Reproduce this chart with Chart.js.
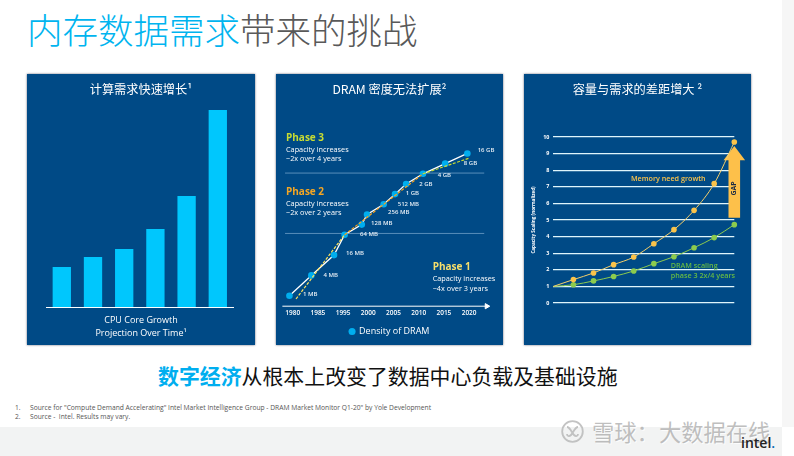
<!DOCTYPE html>
<html>
<head>
<meta charset="utf-8">
<style>
  html, body { margin: 0; padding: 0; background: #fff; }
  body { width: 794px; height: 456px; position: relative; overflow: hidden; font-family: "Noto Sans CJK SC", "Open Sans", sans-serif; }
  .band { position: absolute; left: 0; top: 427px; width: 782px; height: 29px; background: #f2f3f3; }
  .strip { position: absolute; left: 782px; top: 0; width: 12px; height: 427px; background: #f6f6f6; }
  .title { position: absolute; left: 27px; top: 4px; font-size: 35.5px; line-height: 50px; color: #595959; font-weight: 300; white-space: nowrap; }
  .title b { color: #00b4ef; font-weight: 300; }
  .msg b { color: #00aeef; font-weight: 700; }
  .panel { position: absolute; top: 74px; height: 271px; background: #004a86; box-shadow: 0 0 2px #667; overflow: hidden; }
  .panel canvas { position: absolute; left: 0; top: 0; }
  .ptitle { position: absolute; left: 0; right: 0; top: 5px; text-align: center; color: #fff; font-size: 12.2px; line-height: 20px; white-space: nowrap; }
  .caption { position: absolute; left: 0; right: 0; top: 240px; text-align: center; color: #fff; font-size: 9px; line-height: 12.5px; font-family: "Open Sans", sans-serif; }
  .note { position: absolute; color: #fff; font-size: 7.3px; line-height: 9.3px; font-family: "Open Sans", sans-serif; white-space: nowrap; }
  .note b { display: block; font-size: 10px; line-height: 16px; }
  .msg { position: absolute; left: 158px; top: 359px; font-size: 20.9px; line-height: 32px; color: #111; font-weight: 400; white-space: nowrap; }
  .foot { position: absolute; left: 15px; font-size: 6.7px; line-height: 9px; color: #555; font-family: "Open Sans", sans-serif; white-space: nowrap; }
  .foot span { display: inline-block; width: 15px; }
  .mark { position: absolute; left: 592px; top: 416px; font-size: 22.3px; line-height: 30px; color: rgba(170,170,170,.75); text-shadow: 1px 1px 0 rgba(255,255,255,.8); white-space: nowrap; }
  .ring { position: absolute; left: 561px; top: 420px; }
  .logo { position: absolute; left: 741px; top: 433px; font-size: 14px; line-height: 20px; font-weight: 600; color: #222; font-family: "Open Sans", sans-serif; }
  .logo i { color: #0068b5; font-style: normal; }
</style>
<script src="https://cdn.jsdelivr.net/npm/chart.js@4"></script>
</head>
<body>
<div class="band"></div>
<div class="strip"></div>
<div class="title"><b>内存数据需求</b>带来的挑战</div>

<div class="panel" style="left:27px;width:228px">
  <canvas id="barChart" width="228" height="272"></canvas>
  <div class="ptitle">计算需求快速增长¹</div>
  <div class="caption">CPU Core Growth<br>Projection Over Time¹</div>
</div>

<div class="panel" style="left:276px;width:227px">
  <canvas id="dramChart" width="227" height="272"></canvas>
  <div class="ptitle">DRAM 密度无法扩展²</div>
  <div class="note" style="left:10px;top:54.7px"><b style="color:#c8dc32">Phase 3</b>Capacity increases<br>~2x over 4 years</div>
  <div class="note" style="left:10px;top:109px"><b style="color:#f5a623">Phase 2</b>Capacity increases<br>~2x over 2 years</div>
  <div class="note" style="left:156.7px;top:184.3px"><b style="color:#f7df6b">Phase 1</b>Capacity increases<br>~4x over 3 years</div>
</div>

<div class="panel" style="left:524px;width:227px">
  <canvas id="gapChart" width="227" height="272"></canvas>
  <div class="ptitle">容量与需求的差距增大 ²</div>
</div>

<div class="msg"><b>数字经济</b>从根本上改变了数据中心负载及基础设施</div>
<div class="foot" style="top:403px"><span>1.</span>Source for "Compute Demand Accelerating" Intel Market Intelligence Group - DRAM Market Monitor Q1-20" by Yole Development</div>
<div class="foot" style="top:412px"><span>2.</span>Source -&nbsp; Intel. Results may vary.</div>
<svg class="ring" width="23" height="23" viewBox="0 0 23 23" fill="none" stroke="rgba(185,185,185,.85)" stroke-width="1.8">
  <circle cx="11.5" cy="11.5" r="10.3"/>
  <path d="M6 7c3 0 5 6 7 8s4 1 4-1M17 7c-3 0-5 6-7 8s-4 1-4-1"/>
</svg>
<div class="mark">雪球：大数据在线</div>
<div class="logo">intel<i>.</i></div>

<script>
// panel 1
const coreCategories = ["1", "2", "3", "4", "5", "6"];
const coreValues = [40, 50, 58, 78, 111, 197];

// panel 2: x is the slot of the (evenly spaced) year labels, y is MB
const yearLabels = ["1980", "1985", "1995", "2000", "2005", "2010", "2015", "2020"];
const densityX = [-0.13, 0.74, 1.64, 2.06, 2.74, 2.95, 3.61, 4.06, 4.5, 5.17, 6.05, 6.93];
const densityMB = [1, 4, 16, 64, 128, 256, 512, 1024, 2048, 4096, 8192, 16384];
const densityLabels = ["1 MB", "4 MB", "16 MB", "64 MB", "128 MB", "256 MB", "512 MB", "1 GB", "2 GB", "4 GB", "8 GB", "16 GB"];
const phase1Trend = [{ x: 0.13, y: 0.8 }, { x: 2.06, y: 64 }];
const phase2Trend = [{ x: 2.06, y: 64 }, { x: 5.17, y: 4096 }];
const phase3Trend = [{ x: 5.17, y: 4096 }, { x: 7, y: 11900 }];
const phaseLinesMB = [70, 4300];

// panel 3
const scaleX = [1, 2, 3, 4, 5, 6, 7, 8, 9, 10];
const memoryNeed = [1, 1.41, 1.81, 2.31, 2.77, 3.57, 4.42, 5.58, 7.19, 9.7];
const dramScaling = [1, 1.1, 1.33, 1.6, 1.93, 2.37, 2.79, 3.33, 3.94, 4.72];
const gapRange = [5.14, 9.46];

Chart.defaults.animation = false;
Chart.defaults.responsive = false;
Chart.defaults.font.family = '"Open Sans", sans-serif';
Chart.defaults.color = "#fff";

const noLegend = { legend: { display: false }, tooltip: { enabled: false } };

new Chart(document.getElementById("barChart"), {
  type: "bar",
  data: {
    labels: coreCategories,
    datasets: [{ data: coreValues, backgroundColor: "#00c7fd", barPercentage: 0.587, categoryPercentage: 1 }],
  },
  options: {
    plugins: noLegend,
    layout: { autoPadding: false, padding: { left: 19.2, right: 21.6, top: 36, bottom: 31 } },
    scales: {
      x: { ticks: { display: false }, grid: { display: false }, border: { color: "#fff", width: 1 } },
      y: { display: false, min: 0, max: 197 },
    },
  },
});

// point labels of the density curve, offsets in px from the point
const labelOffsets = [[20.7, -1.7], [19.3, 0], [21, -2], [24.3, -0.7], [20, -1], [31.7, -1.7], [24.7, 0], [17.3, -1], [19.7, 0], [21.3, 1.3], [25.3, 0], [18.7, -2.7]];
const densityLabelPlugin = {
  id: "densityLabels",
  afterDatasetsDraw(chart) {
    const { ctx, scales } = chart;
    ctx.save();
    ctx.font = "600 6px 'Open Sans', sans-serif";
    ctx.fillStyle = "#e6eef5";
    ctx.textAlign = "center";
    ctx.textBaseline = "middle";
    densityLabels.forEach((t, i) => {
      const px = scales.x.getPixelForValue(densityX[i]);
      const py = scales.y.getPixelForValue(densityMB[i]);
      ctx.fillText(t, px + labelOffsets[i][0], py + labelOffsets[i][1]);
    });
    ctx.restore();
  },
};

const yMin = 0.49;
const axisEnd = 7.7;
new Chart(document.getElementById("dramChart"), {
  type: "scatter",
  data: {
    datasets: [
      { label: "Density of DRAM", order: 2, data: densityX.map((x, i) => ({ x, y: densityMB[i] })), showLine: true, borderColor: "#fff", borderWidth: 1.3, backgroundColor: "#00aeef", pointRadius: 3.3, pointBorderWidth: 0 },
      { label: "phase 1", order: 1, data: phase1Trend, showLine: true, borderColor: "#ffe35c", borderWidth: 1.2, borderDash: [3, 1.5], pointRadius: 0 },
      { label: "phase 2", order: 1, data: phase2Trend, showLine: true, borderColor: "#f7a11a", borderWidth: 1.2, borderDash: [3, 1.5], pointRadius: 0 },
      { label: "phase 3", order: 1, data: phase3Trend, showLine: true, borderColor: "#c8dc32", borderWidth: 1.2, borderDash: [3, 1.5], pointRadius: 0 },
      { label: "line", order: 3, data: [{ x: -0.305, y: phaseLinesMB[0] }, { x: 7.6, y: phaseLinesMB[0] }], showLine: true, borderColor: "#6f9fc6", borderWidth: 0.8, pointRadius: 0 },
      { label: "line", order: 3, data: [{ x: -0.305, y: phaseLinesMB[1] }, { x: 7.6, y: phaseLinesMB[1] }], showLine: true, borderColor: "#6f9fc6", borderWidth: 0.8, pointRadius: 0 },
      { label: "axis", order: 3, data: [{ x: -0.41, y: yMin }, { x: axisEnd, y: yMin }], showLine: true, borderColor: "#fff", borderWidth: 1, pointRadius: [0, 3], pointStyle: "triangle", rotation: 90, backgroundColor: "#fff", clip: false },
    ],
  },
  options: {
    plugins: {
      tooltip: { enabled: false },
      legend: {
        position: "bottom",
        labels: { filter: (item) => item.text === "Density of DRAM", usePointStyle: true, pointStyle: "circle", boxWidth: 5, boxHeight: 5, color: "#fff", font: { size: 9 }, padding: 5 },
      },
    },
    layout: { autoPadding: false, padding: { left: 0, right: 0, top: 0, bottom: 0 } },
    scales: {
      x: {
        type: "linear", min: -0.663, max: 8.345,
        afterFit: (axis) => { axis.height = 15.8; },
        grid: { display: false }, border: { display: false },
        afterBuildTicks: (axis) => { axis.ticks = yearLabels.map((_, i) => ({ value: i })); },
        ticks: { autoSkip: false, maxRotation: 0, padding: -5, font: { size: 6.5, weight: "600" }, callback: (v) => yearLabels[v] },
      },
      y: { type: "logarithmic", display: false, min: yMin, max: 3700000 },
    },
  },
  plugins: [densityLabelPlugin],
});

const gapPlugin = {
  id: "gapArrow",
  beforeDatasetsDraw(chart) {
    const { ctx, scales } = chart;
    // the x axis is a category axis, so it is addressed by index
    const px = scales.x.getPixelForValue(scaleX.indexOf(10));
    const bottom = scales.y.getPixelForValue(gapRange[0]);
    const tip = scales.y.getPixelForValue(gapRange[1]);
    const neck = tip + 14.3;
    ctx.save();
    ctx.fillStyle = "#fdc04a";
    ctx.beginPath();
    ctx.moveTo(px - 5.8, bottom);
    ctx.lineTo(px - 5.8, neck);
    ctx.lineTo(px - 10.8, neck);
    ctx.lineTo(px, tip);
    ctx.lineTo(px + 10.8, neck);
    ctx.lineTo(px + 5.8, neck);
    ctx.lineTo(px + 5.8, bottom);
    ctx.closePath();
    ctx.fill();
    ctx.translate(px, scales.y.getPixelForValue(6.9));
    ctx.rotate(-Math.PI / 2);
    ctx.fillStyle = "#1a2a44";
    ctx.font = "bold 7px 'Open Sans', sans-serif";
    ctx.textAlign = "center";
    ctx.textBaseline = "middle";
    ctx.fillText("GAP", 0, 0);
    ctx.restore();
  },
  afterDatasetsDraw(chart) {
    const { ctx, scales } = chart;
    const xAt = (v) => scales.x.getPixelForValue(v - 1);
    ctx.save();
    ctx.font = "600 7.2px 'Open Sans', sans-serif";
    ctx.fillStyle = "#fbc34a";
    ctx.textAlign = "left";
    ctx.textBaseline = "middle";
    ctx.fillText("Memory need growth", xAt(4.86), scales.y.getPixelForValue(7.49));
    ctx.fillStyle = "#66bb44";
    ctx.fillText("DRAM scaling", xAt(6.84), scales.y.getPixelForValue(2.23));
    ctx.fillText("phase 3 2x/4 years", xAt(6.84), scales.y.getPixelForValue(1.63));
    ctx.restore();
  },
};

const hideFirst = [0, 2.8, 2.8, 2.8, 2.8, 2.8, 2.8, 2.8, 2.8, 2.8];
new Chart(document.getElementById("gapChart"), {
  type: "line",
  data: {
    labels: scaleX,
    datasets: [
      { data: memoryNeed, borderColor: "#f5cf6a", backgroundColor: "#fbc34a", borderWidth: 1, pointRadius: hideFirst, pointBorderWidth: 0, cubicInterpolationMode: "monotone" },
      { data: dramScaling, borderColor: "#8ccb4e", backgroundColor: "#8ccb4e", borderWidth: 1, pointRadius: hideFirst, pointBorderWidth: 0, cubicInterpolationMode: "monotone" },
    ],
  },
  options: {
    plugins: noLegend,
    layout: { autoPadding: false, padding: { left: 0, right: 16.7, top: 63, bottom: 33 } },
    scales: {
      x: {
        offset: false,
        afterFit: (axis) => { axis.height = 10; },
        grid: { display: false }, border: { display: false },
        ticks: { padding: 3, font: { size: 5.4, weight: "bold" }, maxRotation: 0 },
      },
      y: {
        min: 0, max: 10,
        afterFit: (axis) => { axis.width = 29.3; },
        title: { display: true, text: "Capacity Scaling (normalized)", font: { size: 4.6, weight: "bold" }, padding: { top: 7, bottom: 0 } },
        grid: { color: "#dff5fb", lineWidth: 1.2, drawTicks: false }, border: { display: false },
        ticks: { stepSize: 1, padding: 4, font: { size: 5.4, weight: "bold" } },
      },
    },
  },
  plugins: [gapPlugin],
});
</script>
</body>
</html>
